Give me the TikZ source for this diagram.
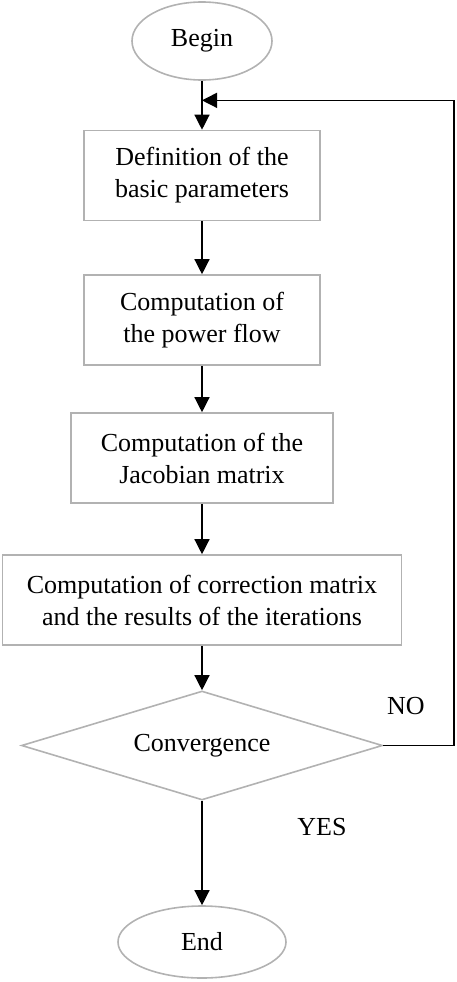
\documentclass[tikz,border=0pt]{standalone}
\usepackage{fontspec}
\setmainfont{Liberation Serif}
\usepackage{tikz}
\usetikzlibrary{positioning,arrows.meta,calc,shapes.geometric}
\definecolor{edgegray}{RGB}{178,178,178}
\tikzset{flow/.style={>={Triangle[length=15pt,width=15pt]},line width=1.3pt,
        font=\fontsize{26}{32}\selectfont,node distance=140pt},
    terminal/.style={ellipse,draw=edgegray,line width=1.6pt,inner sep=0pt},
    stepbox/.style={rectangle,draw=edgegray,line width=1.6pt,align=center,
        minimum width=236pt,minimum height=90pt,inner sep=0pt},
    decision/.style={diamond,draw=edgegray,line width=1.6pt,aspect=3.3,
        minimum width=361pt,minimum height=109pt,inner sep=0pt},
    tag/.style={inner sep=0pt}}

\begin{document}
\begin{tikzpicture}[flow]
    \useasboundingbox (0,0) rectangle (457pt,-982pt);
    \node[terminal,minimum width=140pt,minimum height=78pt](begin) at (202pt,-41pt){Begin};
    \node[stepbox](params)[below of=begin, node distance=134.5pt]{Definition of the\\basic parameters};
    \node[stepbox](flowc)[below of=params, node distance=144.5pt]{Computation of\\the power flow};
    \node[stepbox,minimum width=262pt](jacob)[below of=flowc, node distance=138pt]{Computation of the\\Jacobian matrix};
    \node[stepbox,minimum width=399pt](corr)[below of=jacob, node distance=142pt]{Computation of correction matrix\\and the results of the iterations};
    \node[decision](conv)[below of=corr, node distance=145.5pt]{Convergence};
    \node[terminal,minimum width=168pt,minimum height=72pt](finish)[below of=conv, node distance=196.5pt]{End};

    \node[tag](no) at ($(conv.east)+(22.5pt,39.5pt)$){NO};
    \node[tag](yes) at ($(conv.south)+(120pt,-26pt)$){YES};

    \coordinate (back) at ($(begin.south)!0.4!(params.north)$);
    \coordinate (corner) at (454pt,-745.5pt);

    \draw[->] (begin) -- (params);
    \draw[->] (params) -- (flowc);
    \draw[->] (flowc) -- (jacob);
    \draw[->] (jacob) -- (corr);
    \draw[->] (corr) -- (conv);
    \draw[->] (conv) -- (finish);
    \draw[->] (conv.east) -- (corner) |- (back);
\end{tikzpicture}
\end{document}
